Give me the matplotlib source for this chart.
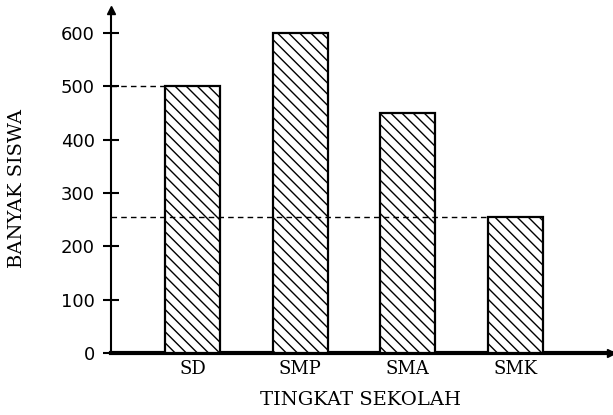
import matplotlib
matplotlib.use("Agg")
import matplotlib.pyplot as plt

# data
categories = ["SD", "SMP", "SMA", "SMK"]
siswa = [500, 600, 450, 255]
yticks = [0, 100, 200, 300, 400, 500, 600]

fig = plt.figure(figsize=(6.13, 4.15), dpi=100)
ax = fig.add_axes([111 / 613, 1 - 353 / 415, 500 / 613, 343 / 415])

x = list(range(len(categories)))
plt.rcParams['hatch.linewidth'] = 1.0
ax.bar(x, siswa, width=0.51, color="white", edgecolor="black",
       linewidth=1.6, hatch="\\\\\\", zorder=3)

ax.set_xlim(-0.76, 3.89)
ax.set_ylim(0, 643)

# dashed guide lines from the y axis to SD and SMK
ax.hlines(siswa[0], -0.76, x[0] - 0.255, colors="black", linestyles=(0, (4, 3)), linewidth=1)
ax.hlines(siswa[3], -0.76, x[3] - 0.255, colors="black", linestyles=(0, (4, 3)), linewidth=1, zorder=4)

for s in ["top", "right"]:
    ax.spines[s].set_visible(False)
ax.spines["left"].set_linewidth(1.5)
ax.spines["bottom"].set_linewidth(3)

# arrow heads
ax.plot(1, 0, ">k", transform=ax.transAxes, clip_on=False, markersize=6)
ax.plot(0, 1, "^k", transform=ax.transAxes, clip_on=False, markersize=6)

ax.set_yticks(yticks)
ax.set_yticklabels([str(v) for v in yticks], fontsize=13, family="DejaVu Sans")
ax.tick_params(axis="y", direction="inout", length=11, width=1.5, pad=6)
ax.set_xticks(x)
ax.set_xticklabels(categories, fontsize=13, family="DejaVu Serif")
ax.tick_params(axis="x", length=0, pad=5)

ax.set_ylabel("BANYAK SISWA", fontsize=14, family="DejaVu Serif")
ax.set_xlabel("TINGKAT SEKOLAH", fontsize=14, family="DejaVu Serif")
ax.xaxis.set_label_coords(0.5, -0.112)
ax.yaxis.set_label_coords(-0.17, 0.48)

fig.savefig("out.png", dpi=100)
